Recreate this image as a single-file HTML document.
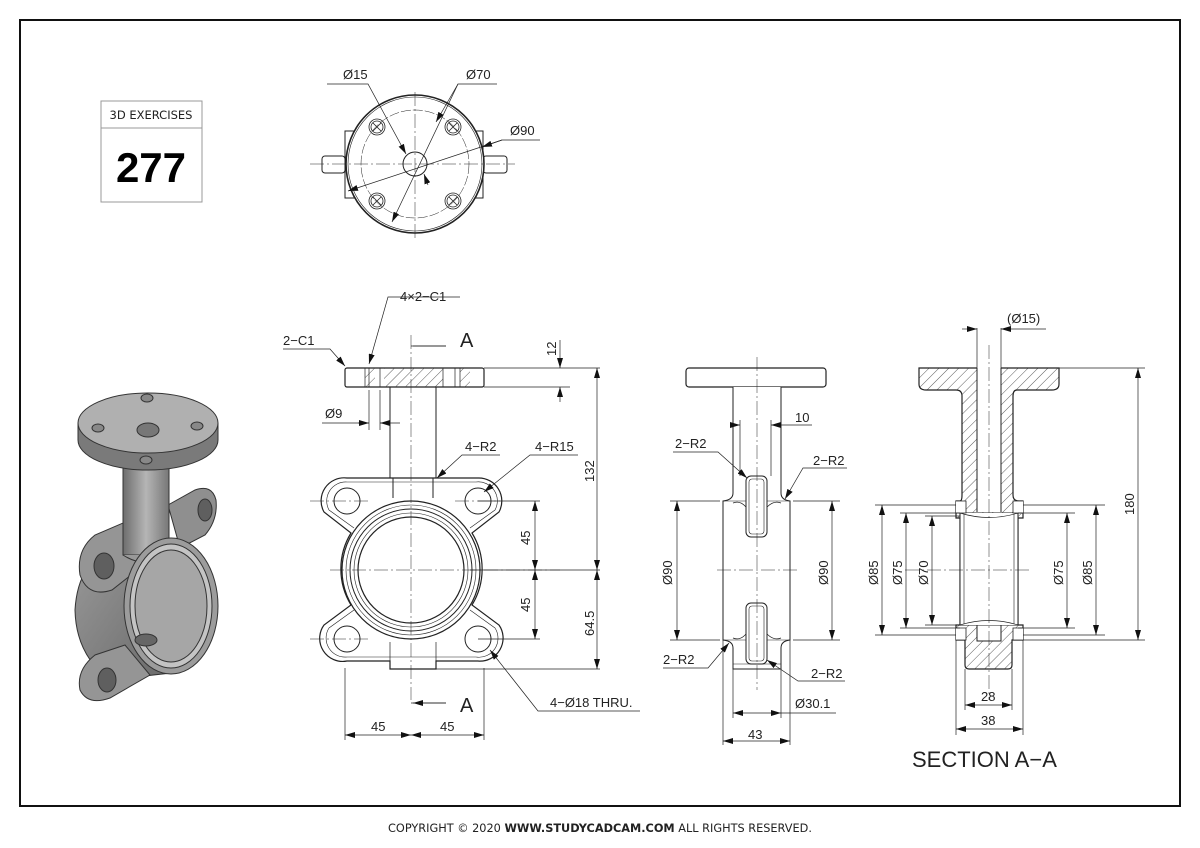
<!DOCTYPE html>
<html><head><meta charset="utf-8"><style>
html,body{margin:0;padding:0;background:#fff}
svg{display:block}
text{font-family:"Liberation Sans",sans-serif;fill:#222}
</style></head><body>
<svg width="1200" height="848" viewBox="0 0 1200 848" xmlns="http://www.w3.org/2000/svg">
<defs>
<marker id="a" viewBox="0 0 10 6" refX="10" refY="3" markerWidth="10" markerHeight="6" orient="auto-start-reverse" markerUnits="userSpaceOnUse"><path d="M0,0L10,3L0,6z" fill="#111"/></marker>
<pattern id="h" width="7" height="7" patternUnits="userSpaceOnUse" patternTransform="rotate(45)"><line x1="0" y1="0" x2="0" y2="7" stroke="#333" stroke-width="0.8"/></pattern>
<linearGradient id="g" x1="0" x2="1"><stop offset="0" stop-color="#6d6d6d"/><stop offset="0.5" stop-color="#b5b5b5"/><stop offset="1" stop-color="#777"/></linearGradient>
<linearGradient id="g2" x1="0" x2="1" y1="0" y2="1"><stop offset="0" stop-color="#9a9a9a"/><stop offset="1" stop-color="#6a6a6a"/></linearGradient>
</defs>
<rect x="20" y="20" width="1160" height="786" fill="none" stroke="#111" stroke-width="2"/>
<text x="600" y="832" font-size="11.3" text-anchor="middle" style="font-family:'DejaVu Sans',sans-serif">COPYRIGHT © 2020 <tspan font-weight="bold">WWW.STUDYCADCAM.COM</tspan> ALL RIGHTS RESERVED.</text>

<rect x="101" y="101" width="101" height="101" fill="none" stroke="#999"/>
<line x1="101" y1="128" x2="202" y2="128" stroke="#999"/>
<text x="151" y="119" font-size="11.5" text-anchor="middle" style="font-family:'DejaVu Sans',sans-serif">3D EXERCISES</text>
<text x="151" y="182" font-size="42" font-weight="bold" text-anchor="middle" style="font-family:'Liberation Sans',sans-serif;fill:#000">277</text>

<!-- TOP VIEW -->
<g stroke="#222" fill="none" stroke-width="1">
<rect x="345" y="131" width="138" height="67" fill="#fff"/>
<rect x="322" y="156" width="23" height="17" rx="3"/>
<rect x="483" y="156" width="24" height="17" rx="3"/>
<circle cx="415" cy="164" r="69" fill="#fff" stroke-width="1.6"/>
<circle cx="415" cy="164" r="67" stroke-width="0.6"/>
<circle cx="415" cy="164" r="54" stroke-width="0.5" stroke-dasharray="10 2"/>
<circle cx="415" cy="164" r="12"/>
<g stroke-width="0.8">
<circle cx="377" cy="127" r="8"/><circle cx="377" cy="127" r="6"/><path d="M373,123l8,8M381,123l-8,8"/>
<circle cx="453" cy="127" r="8"/><circle cx="453" cy="127" r="6"/><path d="M449,123l8,8M457,123l-8,8"/>
<circle cx="377" cy="201" r="8"/><circle cx="377" cy="201" r="6"/><path d="M373,197l8,8M381,197l-8,8"/>
<circle cx="453" cy="201" r="8"/><circle cx="453" cy="201" r="6"/><path d="M449,197l8,8M457,197l-8,8"/>
</g>
<path d="M310,164H515M415,92V238" stroke-width="0.5" stroke-dasharray="14 3 2 3"/>
<g stroke-width="0.7">
<path d="M327,84H368L406,154" marker-end="url(#a)"/>
<path d="M424,174L428,185" marker-start="url(#a)"/>
<path d="M497,84H458L392,222" marker-end="url(#a)"/><path d="M458,84L436,122" marker-end="url(#a)"/>
<path d="M540,140H502L348,191" marker-end="url(#a)"/><path d="M502,140L482,147" marker-end="url(#a)"/>
</g>
</g>
<text x="343" y="79" font-size="13">Ø15</text>
<text x="466" y="79" font-size="13">Ø70</text>
<text x="510" y="135" font-size="13">Ø90</text>

<!-- FRONT VIEW -->
<g stroke="#222" fill="none" stroke-width="1">
<path d="M347,478H478A23,23 0 0 1 499,512L472,533A69,69 0 0 1 472,605L499,625A23,23 0 0 1 478,661H436V669H390V661H347A23,23 0 0 1 324,625L351,605A69,69 0 0 1 351,533L324,512A23,23 0 0 1 347,478Z" fill="#fff" stroke-width="1.2"/>
<path d="M347,482H476A19,19 0 0 1 495,510L470,528M347,482A19,19 0 0 0 329,510L354,528M347,657H476A19,19 0 0 0 495,628L470,610M347,657A19,19 0 0 1 329,628L354,610" stroke-width="0.6"/>
<circle cx="347" cy="501" r="13"/><circle cx="478" cy="501" r="13"/><circle cx="347" cy="639" r="13"/><circle cx="478" cy="639" r="13"/>
<circle cx="411" cy="570" r="69" fill="#fff" stroke-width="1.2"/>
<circle cx="411" cy="570" r="65" stroke-width="0.6"/>
<circle cx="411" cy="570" r="61"/>
<circle cx="411" cy="570" r="57" stroke-width="0.6"/>
<circle cx="411" cy="570" r="53" stroke-width="1.2"/>
<path d="M390,387V478H393V498M436,387V478H433V498" />
<path d="M390,642V661M436,642V661" stroke-width="0.7"/>
<rect x="345" y="368" width="139" height="19" rx="2" fill="#fff" stroke-width="1.2"/>
<rect x="384" y="368" width="59" height="19" fill="url(#h)" stroke="none"/>
<rect x="460" y="368" width="10" height="19" fill="url(#h)" stroke="none"/>
<rect x="365" y="368" width="10" height="19" fill="url(#h)" stroke="none"/>
<path d="M369,368V387M380,368V387M443,368V387M455,368V387M365,368V387M460,368V387" stroke-width="0.7"/>
<path d="M411,335V700M330,570H560M310,501H370M455,501H500M310,639H370" stroke-width="0.5" stroke-dasharray="14 3 2 3"/>
<g stroke-width="0.7">
<path d="M411,346H446M411,703H446"/><path d="M446,346H413M446,703H413" marker-end="url(#a)"/>
<path d="M484,368H600M484,387H570M436,669H600M478,501H540M478,639H540M470,570H600"/>
<path d="M560,340V368" marker-end="url(#a)"/><path d="M560,402V387" marker-end="url(#a)"/>
<path d="M597,368V570" marker-start="url(#a)" marker-end="url(#a)"/>
<path d="M597,570V669" marker-start="url(#a)" marker-end="url(#a)"/>
<path d="M535,501V570" marker-start="url(#a)" marker-end="url(#a)"/>
<path d="M535,570V639" marker-start="url(#a)" marker-end="url(#a)"/>
<path d="M345,668V740M484,668V740"/>
<path d="M345,735H411" marker-start="url(#a)" marker-end="url(#a)"/>
<path d="M411,735H484" marker-start="url(#a)" marker-end="url(#a)"/>
<path d="M369,390V430M380,390V430M322,423H369" /><path d="M358,423H369" marker-end="url(#a)"/><path d="M400,423H380" marker-end="url(#a)"/>
<path d="M283,349H330L345,366" marker-end="url(#a)"/>
<path d="M460,297H388L369,364" marker-end="url(#a)"/>
<path d="M500,455H462L437,478" marker-end="url(#a)"/>
<path d="M578,455H530L484,492" marker-end="url(#a)"/>
<path d="M640,711H538L490,650" marker-end="url(#a)"/>
</g>
</g>
<g font-size="13">
<text x="460" y="347" font-size="20">A</text><text x="460" y="712" font-size="20">A</text>
<text x="400" y="301">4×2−C1</text>
<text x="283" y="345">2−C1</text>
<text x="325" y="418">Ø9</text>
<text x="465" y="451">4−R2</text>
<text x="535" y="451">4−R15</text>
<text x="550" y="707">4−Ø18 THRU.</text>
<text x="371" y="731">45</text><text x="440" y="731">45</text>
<text transform="translate(556,356) rotate(-90)">12</text>
<text transform="translate(594,482) rotate(-90)">132</text>
<text transform="translate(530,545) rotate(-90)">45</text>
<text transform="translate(530,612) rotate(-90)">45</text>
<text transform="translate(594,636) rotate(-90)">64.5</text>
</g>

<!-- SIDE VIEW -->
<g stroke="#222" fill="none" stroke-width="1">
<rect x="686" y="368" width="140" height="19" rx="3" fill="#fff" stroke-width="1.2"/>
<path d="M733,387V493Q733,500 723,501V640Q733,641 733,648V669H781V648Q781,641 790,640V501Q781,500 781,493V387" fill="#fff"/>
<path d="M723,501H790M723,640H790M733,664H781" stroke-width="0.6"/>
<rect x="746" y="476" width="21" height="61" rx="5" fill="#fff"/><rect x="749" y="479" width="15" height="55" rx="3" stroke-width="0.6"/>
<rect x="746" y="603" width="21" height="61" rx="5" fill="#fff"/><rect x="749" y="606" width="15" height="55" rx="3" stroke-width="0.6"/>
<path d="M733,503Q740,500 746,507M767,507Q774,500 781,503M733,638Q740,641 746,634M767,634Q774,641 781,638" stroke-width="0.7"/>
<path d="M757,357V690M717,570H800" stroke-width="0.5" stroke-dasharray="14 3 2 3"/>
<g stroke-width="0.7">
<path d="M740,420V476M771,420V476"/><path d="M732,425H740" marker-end="url(#a)"/><path d="M812,425H771" marker-end="url(#a)"/>
<path d="M670,501H720M670,640H720M793,501H840M793,640H840"/>
<path d="M677,501V640" marker-start="url(#a)" marker-end="url(#a)"/>
<path d="M832,501V640" marker-start="url(#a)" marker-end="url(#a)"/>
<path d="M733,669V718M781,669V718M723,640V745M790,640V745"/>
<path d="M733,713H781" marker-start="url(#a)" marker-end="url(#a)"/><path d="M781,713H836"/>
<path d="M723,741H790" marker-start="url(#a)" marker-end="url(#a)"/>
<path d="M673,452H718L747,478" marker-end="url(#a)"/>
<path d="M847,468H803L785,499" marker-end="url(#a)"/>
<path d="M663,668H708L729,643" marker-end="url(#a)"/>
<path d="M845,681H798L767,660" marker-end="url(#a)"/>
</g>
</g>
<g font-size="13">
<text x="795" y="422">10</text>
<text x="675" y="448">2−R2</text>
<text x="813" y="465">2−R2</text>
<text x="663" y="664">2−R2</text>
<text x="811" y="678">2−R2</text>
<text x="795" y="708">Ø30.1</text>
<text x="748" y="739">43</text>
<text transform="translate(672,585) rotate(-90)">Ø90</text>
<text transform="translate(828,585) rotate(-90)">Ø90</text>
</g>

<!-- SECTION A-A -->
<g stroke="#222" fill="none" stroke-width="1">
<path d="M919,368H1059V384Q1059,390 1052,390H1017Q1013,390 1013,396V495Q1013,501 1019,501H1023V518H1018V625H1023V640H1012V665Q1012,669 1008,669H969Q965,669 965,665V640H956V625H960V518H956V501H960Q962,501 962,495V396Q962,390 956,390H926Q919,390 919,384Z" fill="url(#h)" stroke-width="1.2"/>
<rect x="977" y="340" width="24" height="172" fill="#fff" stroke="none"/>
<path d="M977,368V512M1001,368V512" />
<rect x="960" y="513" width="58" height="112" fill="#fff"/>
<path d="M964,513V625M1014,513V625" stroke-width="0.6"/>
<path d="M977,625H1001V641H977Z" fill="#fff"/>
<path d="M960,513Q989,522 1018,513M960,625Q989,616 1018,625" stroke-width="0.7" fill="#fff"/>
<path d="M956,501H966V513H956M1023,501H1013V513H1023M956,640H966V628H956M1023,640H1013V628H1023" fill="#fff" stroke-width="0.8"/>
<path d="M989,345V700M905,570H1030" stroke-width="0.5" stroke-dasharray="14 3 2 3"/>
<g stroke-width="0.7">
<path d="M977,328V368M1001,328V368"/><path d="M962,329H977" marker-end="url(#a)"/><path d="M1046,329H1001" marker-end="url(#a)"/>
<path d="M1059,368H1145M1023,640H1145"/>
<path d="M1138,368V640" marker-start="url(#a)" marker-end="url(#a)"/>
<path d="M875,505H956M900,513H960M925,516H960M1023,505H1105M1018,513H1075"/>
<path d="M875,635H956M900,628H960M925,625H960M1023,635H1105M1018,628H1075"/>
<path d="M882,505V635" marker-start="url(#a)" marker-end="url(#a)"/>
<path d="M906,513V628" marker-start="url(#a)" marker-end="url(#a)"/>
<path d="M932,516V625" marker-start="url(#a)" marker-end="url(#a)"/>
<path d="M1067,513V628" marker-start="url(#a)" marker-end="url(#a)"/>
<path d="M1096,505V635" marker-start="url(#a)" marker-end="url(#a)"/>
<path d="M965,669V710M1012,669V710M956,640V735M1023,640V735"/>
<path d="M965,705H1012" marker-start="url(#a)" marker-end="url(#a)"/>
<path d="M956,729H1023" marker-start="url(#a)" marker-end="url(#a)"/>
</g>
</g>
<g font-size="13">
<text x="1007" y="323">(Ø15)</text>
<text x="981" y="701">28</text><text x="981" y="725">38</text>
<text transform="translate(1134,515) rotate(-90)">180</text>
<text transform="translate(878,585) rotate(-90)">Ø85</text>
<text transform="translate(902,585) rotate(-90)">Ø75</text>
<text transform="translate(928,585) rotate(-90)">Ø70</text>
<text transform="translate(1063,585) rotate(-90)">Ø75</text>
<text transform="translate(1092,585) rotate(-90)">Ø85</text>
<text x="912" y="767" font-size="22">SECTION A−A</text>
</g>

<!-- 3D ISO -->
<g stroke="#333" stroke-width="1">
<!-- upper right ear (behind) -->
<path d="M168,505L195,490Q212,484 216,500Q218,520 205,535L180,548Z" fill="#8f8f8f"/>
<ellipse cx="205" cy="510" rx="7" ry="11" fill="#5f5f5f"/>
<!-- lower right ear behind -->
<path d="M205,600L212,590Q220,605 212,622L205,625Z" fill="#888"/>
<!-- body -->
<path d="M171,539L115,548Q78,560 75,610Q76,655 110,680L171,673Z" fill="url(#g2)"/>
<!-- upper left ear -->
<path d="M130,520L95,535Q76,550 80,575Q88,598 112,590L150,560Z" fill="#959595"/>
<ellipse cx="104" cy="566" rx="10" ry="13" fill="#5f5f5f"/>
<!-- lower left ear -->
<path d="M125,645L95,655Q76,670 80,690Q88,706 110,698L150,675Z" fill="#959595"/>
<ellipse cx="107" cy="680" rx="9" ry="12" fill="#5f5f5f"/>
<!-- stem -->
<rect x="123" y="455" width="46" height="100" fill="url(#g)"/>
<path d="M123,555Q146,570 169,555" fill="#999"/>
<!-- ring -->
<ellipse cx="171" cy="606" rx="47" ry="68" fill="#9c9c9c"/>
<ellipse cx="171" cy="606" rx="41" ry="62" fill="#c4c4c4"/>
<ellipse cx="171" cy="606" rx="36" ry="56" fill="#a6a6a6"/>
<ellipse cx="146" cy="640" rx="11" ry="6" fill="#666"/>
<!-- flange -->
<path d="M78,423V440A70,30 0 0 0 218,440V423" fill="#7a7a7a"/>
<ellipse cx="148" cy="423" rx="70" ry="30" fill="#b0b0b0"/>
<ellipse cx="148" cy="430" rx="11" ry="7" fill="#777"/>
<ellipse cx="147" cy="398" rx="6" ry="4" fill="#888"/>
<ellipse cx="146" cy="460" rx="6" ry="4" fill="#888"/>
<ellipse cx="98" cy="428" rx="6" ry="4" fill="#888"/>
<ellipse cx="197" cy="426" rx="6" ry="4" fill="#888"/>
</g>
</svg>
</body></html>
